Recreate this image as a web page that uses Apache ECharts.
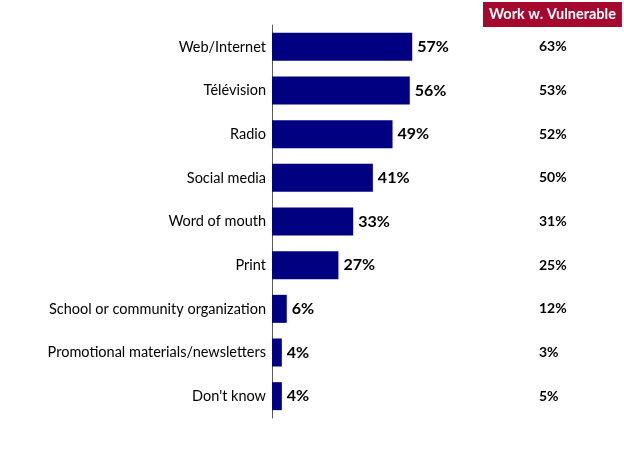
<!DOCTYPE html>
<html><head><meta charset="utf-8">
<script src="https://cdn.jsdelivr.net/npm/echarts@6/dist/echarts.min.js"></script>
<style>html,body{margin:0;padding:0;background:#fff}#c{width:624px;height:468px}</style>
</head><body><div id="c"></div>
<script>
const categories = ["Web/Internet","Télévision","Radio","Social media","Word of mouth","Print","School or community organization","Promotional materials/newsletters","Don't know"];
const totalValues = [57,56,49,41,33,27,6,4,4];
const vulnerableValues = [63,53,52,50,31,25,12,3,5];
const headerLabel = "Work w. Vulnerable";

const chart = echarts.init(document.getElementById('c'));
chart.setOption({
  animation:false,
  title:{text:headerLabel,left:483,top:2,padding:[5,6,5,6],backgroundColor:'#A50A2E',
    textStyle:{color:'#fff',fontSize:14.5,lineHeight:15,fontWeight:'bold',fontFamily:'Lato'}},
  grid:{left:272,top:25,width:246,height:393},
  xAxis:{type:'value',min:0,max:100,show:false},
  yAxis:[{type:'category',data:categories,inverse:true,
    axisLine:{show:true,lineStyle:{color:'#595959',width:1}},axisTick:{show:false},
    axisLabel:{color:'#000',fontSize:14.5,fontFamily:'Lato',margin:6}},
    {type:'category',data:vulnerableValues.map(v=>v+'%'),inverse:true,position:'right',
    axisLine:{show:false},axisTick:{show:false},
    axisLabel:{color:'#000',fontSize:14,fontWeight:'bold',fontFamily:'Lato',margin:21,align:'left'}}],
  series:[{type:'bar',data:totalValues,barWidth:28,itemStyle:{color:'#000080'},
    label:{show:true,position:'right',formatter:'{c}%',color:'#000',fontSize:16,fontWeight:'bold',fontFamily:'Lato',distance:5}}]
});
</script></body></html>
